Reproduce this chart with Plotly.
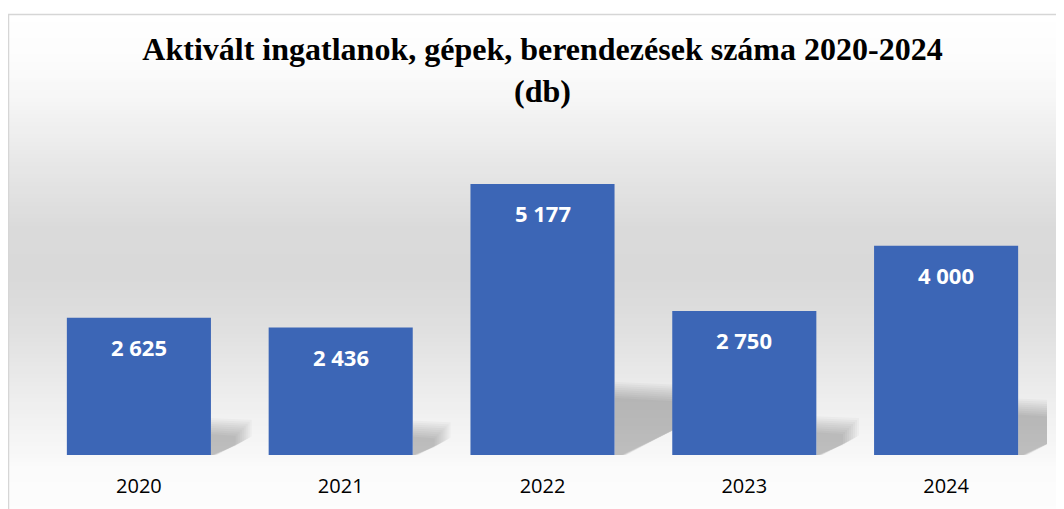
import plotly.graph_objects as go

# ---- data ----
years = ["2020", "2021", "2022", "2023", "2024"]
counts = [2625, 2436, 5177, 2750, 4000]
value_labels = [f"{v:,}".replace(",", " ") for v in counts]
title_line1 = "Aktivált ingatlanok, gépek, berendezések száma 2020-2024"
title_line2 = "(db)"

# ---- layout geometry (pixels, in figure coordinates; page body adds 8px offset) ----
OFF = 8
W, H = 1064, 509
ML = 38 - OFF
MT = 141 - OFF
MR = W - (1047 - OFF)
MB = H - (455 - OFF)
YMAX = 6000
plot_w = W - ML - MR
plot_h = H - MT - MB
px_per_unit = plot_h / YMAX
px_per_cat = plot_w / len(years)
bar_gap = 0.286
half_w = (1 - bar_gap) / 2

fig = go.Figure()
fig.add_trace(go.Bar(
    x=list(range(len(years))), y=counts,
    marker=dict(color="#3c66b6", line=dict(width=0)),
    customdata=years,
    hovertemplate="%{customdata}: %{y}<extra></extra>",
    showlegend=False,
))

shapes = []

# screen px -> paper coords
def py(ypx):
    return ((455 - OFF) - (ypx - OFF)) / plot_h

def px(xpx):
    return ((xpx - OFF) - ML) / plot_w

stops = [(14, 255), (60, 252), (100, 246), (160, 232), (230, 218), (280, 217),
         (330, 224), (400, 238), (455, 248), (470, 251), (520, 253)]

def grey_at(y):
    for (y0, c0), (y1, c1) in zip(stops[:-1], stops[1:]):
        if y0 <= y <= y1:
            t = (y - y0) / (y1 - y0)
            return c0 + (c1 - c0) * t
    return stops[-1][1]

step = 4
y = 14
while y < H + 10:
    g = int(round(grey_at(y + step / 2)))
    shapes.append(dict(type="rect", xref="paper", yref="paper",
                       x0=px(8), x1=px(W + 20), y0=py(y + step + 0.5), y1=py(y),
                       fillcolor=f"rgb({g},{g},{g})", line=dict(width=0), layer="below"))
    y += step

# chart border
shapes.append(dict(type="rect", xref="paper", yref="paper",
                   x0=px(8.5), x1=px(W + 30), y0=py(H + 30), y1=py(14.5),
                   line=dict(color="#d6d6d6", width=1.5), fillcolor="rgba(0,0,0,0)", layer="below"))

# soft perspective shadows to the right of each bar
n_layers = 9
for i, v in enumerate(counts):
    R = i + half_w
    h_px = 0.27 * v * px_per_unit
    w_px = 1.1 * h_px
    for k in range(n_layers):
        d = k * 2.0
        hh = max(h_px - d, 2) / px_per_unit
        top_r = max(h_px * 0.95 - d, 2) / px_per_unit
        mid_r = max(h_px * 0.5 - d * 0.6, 1) / px_per_unit
        wr = max(w_px - d, 4) / px_per_cat
        wb = max(w_px * 0.15 - d * 0.3, 0) / px_per_cat
        path = (f"M {R},0 L {R},{hh} L {R + wr},{top_r} "
                f"L {R + wr},{mid_r} L {R + wb},0 Z")
        shapes.append(dict(type="path", xref="x", yref="y", path=path,
                           fillcolor="rgba(0,0,0,0.028)", line=dict(width=0), layer="below"))

annotations = []
for i, (v, lab) in enumerate(zip(counts, value_labels)):
    annotations.append(dict(x=i, y=v, xref="x", yref="y", text=f"<b>{lab}</b>",
                            showarrow=False, yshift=-29,
                            font=dict(family="Open Sans", size=22, color="white")))

fig.update_layout(
    width=W, height=H,
    margin=dict(l=ML, r=MR, t=MT, b=MB),
    paper_bgcolor="white",
    plot_bgcolor="rgba(0,0,0,0)",
    title=dict(text=f"<b>{title_line1}<br>{title_line2}</b>",
               x=0.5, xref="paper", xanchor="center",
               y=1 - 52 / H, yref="container", yanchor="top",
               font=dict(family="Liberation Serif", size=32, color="black")),
    bargap=bar_gap,
    xaxis=dict(range=[-0.5, len(years) - 0.5], autorange=False,
               tickmode="array", tickvals=list(range(len(years))), ticktext=years,
               showgrid=False, showline=False, zeroline=False,
               ticks="outside", ticklen=13, tickcolor="rgba(0,0,0,0)",
               tickfont=dict(family="Open Sans", size=20, color="black")),
    yaxis=dict(range=[0, YMAX], autorange=False, visible=False, showgrid=False, zeroline=False),
    shapes=shapes,
    annotations=annotations,
)

fig.write_html("out.html")
